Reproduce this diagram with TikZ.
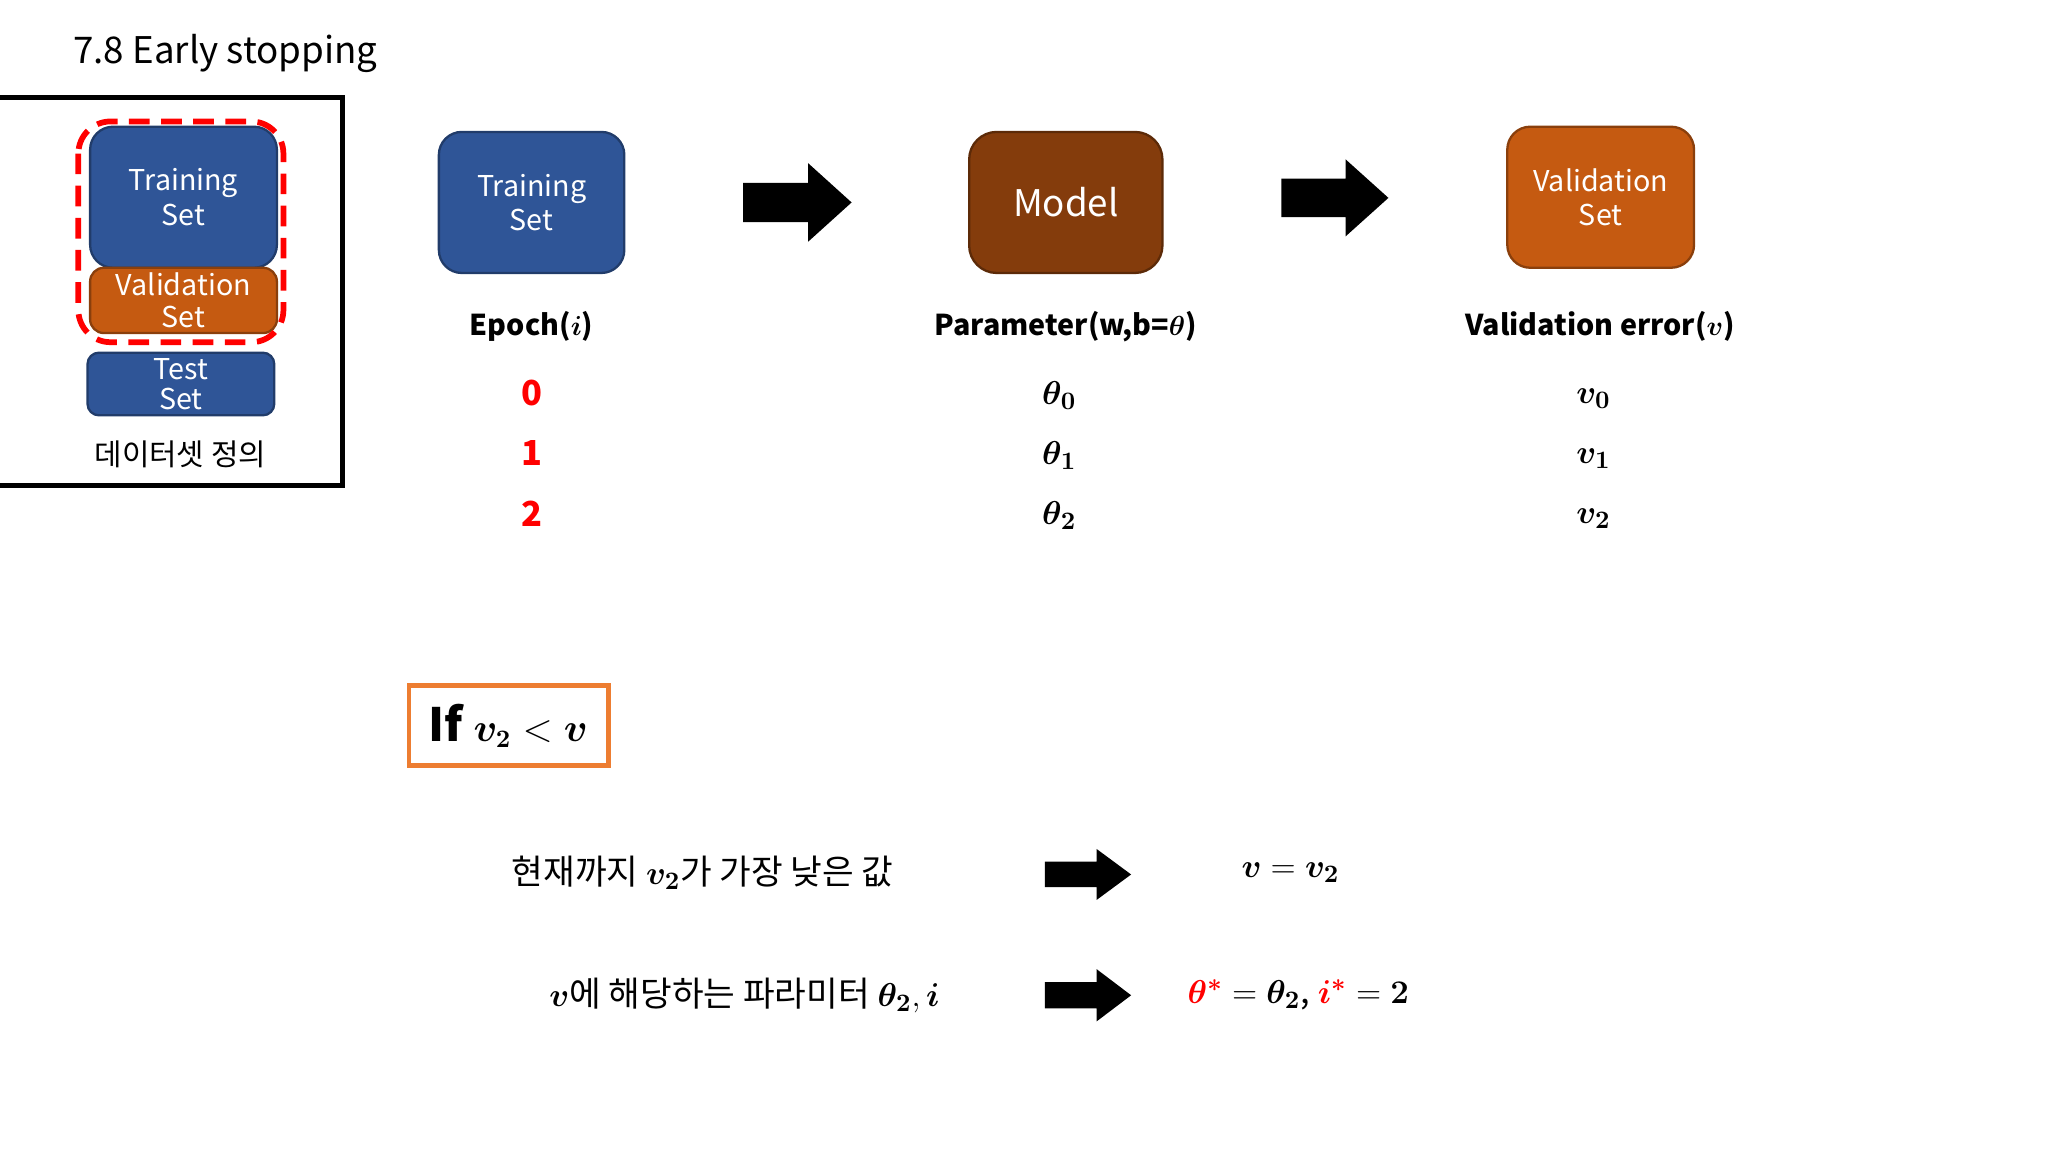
\documentclass[tikz,border=0pt]{standalone}
\usepackage{amsmath,bm}
\usepackage{fontspec}
\setmainfont{Noto Sans CJK KR}
\usetikzlibrary{calc}
\definecolor{cblue}{HTML}{2F5597}
\definecolor{cbrown}{HTML}{843C0C}
\definecolor{corange}{HTML}{C55A11}
\definecolor{ifor}{HTML}{ED7D31}
\tikzset{
  boxb/.style={draw=cblue!70!black,line width=1pt,fill=cblue,rounded corners=10pt,text=white,align=center,inner sep=0pt},
  boxo/.style={draw=corange!70!black,line width=1pt,fill=corange,rounded corners=10pt,text=white,align=center,inner sep=0pt},
  boxm/.style={draw=cbrown!70!black,line width=1pt,fill=cbrown,rounded corners=12pt,text=white,align=center,inner sep=0pt},
  lbl/.style={font=\fontsize{12.5}{14}\selectfont\bfseries},
  num/.style={font=\fontsize{15}{17}\selectfont\bfseries},
  kr/.style={font=\fontsize{15}{17}\selectfont},
}
\newcommand{\blockarrow}[4]{% x1 y1 x2 y2
  \fill[black] (#1,{(#2+#4)/2-0.25*(#4-#2)}) -- ({#1+0.6*(#3-#1)},{(#2+#4)/2-0.25*(#4-#2)}) -- ({#1+0.6*(#3-#1)},#2) -- (#3,{(#2+#4)/2}) -- ({#1+0.6*(#3-#1)},#4) -- ({#1+0.6*(#3-#1)},{(#2+#4)/2+0.25*(#4-#2)}) -- (#1,{(#2+#4)/2+0.25*(#4-#2)}) -- cycle;}
\begin{document}
\begin{tikzpicture}[x=0.02cm,y=-0.02cm]
\useasboundingbox (0,0) rectangle (1568,882);
\node[font=\fontsize{16}{18}\selectfont,anchor=west] (title) at (50,41) {7.8 Early stopping};
\draw[line width=2.2pt] (0,75) -- (262,75) -- (262,372) -- (0,372);
\node[boxb,minimum width=143*0.02cm,minimum height=108*0.02cm,font=\fontsize{12.5}{15}\selectfont] (tr0) at (140.5,151) {Training\\Set};
\node[boxo,rounded corners=6pt,minimum width=143*0.02cm,minimum height=50*0.02cm,font=\fontsize{12.5}{14}\selectfont] (va0) at (140.5,230) {Validation\\Set};
\draw[red,dashed,line width=2.5pt,dash pattern=on 9pt off 5pt,rounded corners=14pt] (60,93) rectangle (217,262);
\node[boxb,rounded corners=5pt,minimum width=143*0.02cm,minimum height=48*0.02cm,font=\fontsize{12.5}{13}\selectfont] (te0) at (138.5,294) {Test\\Set};
\node[font=\fontsize{13}{15}\selectfont] (def) at (138,348) {데이터셋 정의};
\node[boxb,minimum width=142*0.02cm,minimum height=108*0.02cm,font=\fontsize{12.5}{15}\selectfont] (tr) at (407,155) {Training\\Set};
\node[boxm,minimum width=148*0.02cm,minimum height=108*0.02cm,font=\fontsize{16}{18}\selectfont] (model) at (816,155) {Model};
\node[boxo,minimum width=143*0.02cm,minimum height=108*0.02cm,font=\fontsize{12.5}{15}\selectfont] (va) at (1225.5,151) {Validation\\Set};
\blockarrow{569}{125}{652}{185}
\blockarrow{981}{122}{1063}{181}
\node[lbl] (ep) at (407,250) {Epoch($\bm{i}$)};
\node[lbl] (par) at (816,250) {Parameter(w,b=$\bm{\theta}$)};
\node[lbl] (ve) at (1225,250) {Validation error($\bm{v}$)};
\node[num,red] (e0) at (407,301) {0};
\node[num,red] (e1) at (407,347) {1};
\node[num,red] (e2) at (407,393) {2};
\node[num] (t0) at (811,303) {$\bm{\theta_0}$};
\node[num] (t1) at (811,349) {$\bm{\theta_1}$};
\node[num] (t2) at (811,395) {$\bm{\theta_2}$};
\node[num] (v0) at (1220,305) {$\bm{v_0}$};
\node[num] (v1) at (1220,351) {$\bm{v_1}$};
\node[num] (v2) at (1220,397) {$\bm{v_2}$};
\draw[ifor,line width=2pt] (313,525) rectangle (466,586);
\node[anchor=west,font=\fontsize{20}{22}\selectfont\bfseries] (if) at (322,556) {If \fontsize{16}{18}\selectfont$\bm{v_2} < \bm{v}$};
\node[kr] (l1) at (538,668) {현재까지 $\bm{v_2}$가 가장 낮은 값};
\blockarrow{800}{650}{866}{689}
\node[kr] (r1) at (988,668) {$\bm{v} = \bm{v_2}$};
\node[kr] (l2) at (570,762) {$\bm{v}$에 해당하는 파라미터 $\bm{\theta_2}, \bm{i}$};
\blockarrow{800}{742}{866}{782}
\node[kr] (r2) at (994,762) {$\color{red}\bm{\theta^*}\color{black} = \bm{\theta_2}$, $\color{red}\bm{i^*}\color{black} = \bm{2}$};
\end{tikzpicture}
\end{document}
